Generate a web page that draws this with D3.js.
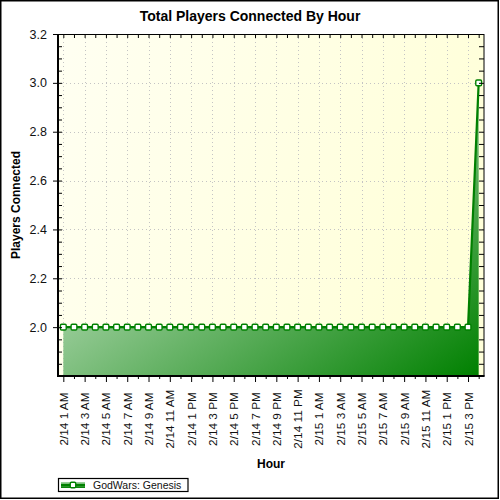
<!DOCTYPE html>
<html>
<head>
<meta charset="utf-8">
<script src="https://cdn.jsdelivr.net/npm/d3@7/dist/d3.min.js"></script>
<style>
  html, body { margin: 0; padding: 0; background: #fff; }
  svg { display: block; font-family: "Liberation Sans", Arial, sans-serif; }
</style>
</head>
<body>
<svg id="chart" width="500" height="500"></svg>
<script>
const hours = [
  "2/14 1 AM","2/14 2 AM","2/14 3 AM","2/14 4 AM","2/14 5 AM","2/14 6 AM","2/14 7 AM","2/14 8 AM",
  "2/14 9 AM","2/14 10 AM","2/14 11 AM","2/14 12 PM","2/14 1 PM","2/14 2 PM","2/14 3 PM","2/14 4 PM",
  "2/14 5 PM","2/14 6 PM","2/14 7 PM","2/14 8 PM","2/14 9 PM","2/14 10 PM","2/14 11 PM","2/15 12 AM",
  "2/15 1 AM","2/15 2 AM","2/15 3 AM","2/15 4 AM","2/15 5 AM","2/15 6 AM","2/15 7 AM","2/15 8 AM",
  "2/15 9 AM","2/15 10 AM","2/15 11 AM","2/15 12 PM","2/15 1 PM","2/15 2 PM","2/15 3 PM","2/15 4 PM"
];
const players = [
  2,2,2,2,2,2,2,2,2,2,
  2,2,2,2,2,2,2,2,2,2,
  2,2,2,2,2,2,2,2,2,2,
  2,2,2,2,2,2,2,2,2,3
];
const xTickLabels = [
  "2/14 1 AM","2/14 3 AM","2/14 5 AM","2/14 7 AM","2/14 9 AM","2/14 11 AM","2/14 1 PM","2/14 3 PM",
  "2/14 5 PM","2/14 7 PM","2/14 9 PM","2/14 11 PM","2/15 1 AM","2/15 3 AM","2/15 5 AM","2/15 7 AM",
  "2/15 9 AM","2/15 11 AM","2/15 1 PM","2/15 3 PM"
];
const yTicks = [2.0, 2.2, 2.4, 2.6, 2.8, 3.0, 3.2];
const yMinorTicks = [1.85,1.9,1.95,2.05,2.1,2.15,2.25,2.3,2.35,2.45,2.5,2.55,2.65,2.7,2.75,2.85,2.9,2.95,3.05,3.1,3.15];
const yDomain = [1.8, 3.2];
const seriesName = "GodWars: Genesis";

const svg = d3.select("#chart");
const L = 58, R = 484, T = 34, B = 376;

const x = d3.scalePoint().domain(hours).range([L, R]).padding(0.5);
const y = d3.scaleLinear().domain(yDomain).range([B, T]);

const defs = svg.append("defs");
const bg = defs.append("linearGradient").attr("id", "bg").attr("x1", "0").attr("y1", "0").attr("x2", "1").attr("y2", "0.3");
bg.append("stop").attr("offset", "0").attr("stop-color", "#fffff2");
bg.append("stop").attr("offset", "1").attr("stop-color", "#ffffd9");
const ag = defs.append("linearGradient").attr("id", "ag").attr("x1", "0").attr("y1", "0").attr("x2", "1").attr("y2", "1");
ag.append("stop").attr("offset", "0").attr("stop-color", "#ffffff");
ag.append("stop").attr("offset", "1").attr("stop-color", "#008000");
const lg = defs.append("linearGradient").attr("id", "lg").attr("x1", "0").attr("y1", "0").attr("x2", "0").attr("y2", "1");
lg.append("stop").attr("offset", "0").attr("stop-color", "#a8d8a8");
lg.append("stop").attr("offset", "1").attr("stop-color", "#008000");

// outer border
svg.append("rect").attr("x", 0.75).attr("y", 0.75).attr("width", 497.5).attr("height", 497.5)
  .attr("fill", "#fff").attr("stroke", "#000").attr("stroke-width", 1.5);

// plot background
svg.append("rect").attr("x", L).attr("y", T).attr("width", R - L).attr("height", B - T).attr("fill", "url(#bg)");

// grid
const grid = svg.append("g").attr("stroke", "#c4c4c4").attr("stroke-width", 1).attr("stroke-dasharray", "1,3");
grid.selectAll("line.h").data(yTicks.filter(v => v < 3.2)).join("line")
  .attr("x1", L).attr("x2", R).attr("y1", d => Math.round(y(d)) + 0.5).attr("y2", d => Math.round(y(d)) + 0.5);
grid.selectAll("line.v").data(xTickLabels).join("line")
  .attr("x1", d => Math.round(x(d)) + 0.5).attr("x2", d => Math.round(x(d)) + 0.5).attr("y1", T).attr("y2", B);

// area
const pts = hours.map((h, i) => ({h, v: players[i]}));
const area = d3.area().x(d => x(d.h)).y0(B).y1(d => y(d.v));
svg.append("path").datum(pts).attr("d", area).attr("fill", "url(#ag)");
const line = d3.line().x(d => x(d.h)).y(d => y(d.v));
svg.append("path").datum(pts).attr("d", line).attr("fill", "none").attr("stroke", "#008000").attr("stroke-width", 2.2);

// markers
svg.append("g").selectAll("rect").data(pts).join("rect")
  .attr("x", d => x(d.h) - 2.9).attr("y", d => y(d.v) - 2.9).attr("width", 5.8).attr("height", 5.8)
  .attr("rx", 1.2).attr("fill", "#fff").attr("stroke", "#008000").attr("stroke-width", 1.4);

// axes
const axisStyle = g => { g.select(".domain").remove(); g.selectAll("line").attr("stroke", "#000"); };

// left major
const gl = svg.append("g").attr("transform", `translate(${L},0)`)
  .call(d3.axisLeft(y).tickValues(yTicks).tickSize(5).tickPadding(6).tickFormat(d3.format(".1f")));
axisStyle(gl);
gl.selectAll(".tick line").attr("x1", 4);
gl.selectAll("text").attr("font-size", "12.5px").attr("fill", "#111").attr("font-family", "Liberation Sans, Arial, sans-serif");
// left minor
const glm = svg.append("g").attr("transform", `translate(${L},0)`)
  .call(d3.axisLeft(y).tickValues(yMinorTicks).tickSize(1).tickFormat(""));
axisStyle(glm);
glm.selectAll(".tick line").attr("x1", 4);
// right
const gr = svg.append("g").attr("transform", `translate(${R},0)`)
  .call(d3.axisRight(y).tickValues(yTicks.concat(yMinorTicks)).tickSize(-5).tickFormat(""));
axisStyle(gr);
// top
const gt = svg.append("g").attr("transform", `translate(0,${T})`)
  .call(d3.axisTop(x).tickValues(hours).tickSize(-4).tickFormat(""));
axisStyle(gt);
// bottom minor
const gbm = svg.append("g").attr("transform", `translate(0,${B})`)
  .call(d3.axisBottom(x).tickValues(hours.filter(h => !xTickLabels.includes(h))).tickSize(3).tickFormat(""));
axisStyle(gbm);
// bottom major
const gb = svg.append("g").attr("transform", `translate(0,${B})`)
  .call(d3.axisBottom(x).tickValues(xTickLabels).tickSize(6));
axisStyle(gb);
gb.selectAll("text")
  .attr("font-size", "11.8px").attr("fill", "#111").attr("font-family", "Liberation Sans, Arial, sans-serif")
  .attr("text-anchor", "middle").attr("dy", null).attr("y", null)
  .attr("dominant-baseline", "central")
  .attr("transform", "translate(0,43) rotate(-90)");

// frame
svg.append("rect").attr("x", L).attr("y", T + 0.5).attr("width", R - L).attr("height", B - T - 0.5)
  .attr("fill", "none").attr("stroke", "#000").attr("stroke-width", 1);
svg.append("line").attr("x1", L).attr("x2", L).attr("y1", T).attr("y2", B + 1).attr("stroke", "#000").attr("stroke-width", 2);
svg.append("line").attr("x1", L - 1).attr("x2", R + 0.5).attr("y1", B).attr("y2", B).attr("stroke", "#000").attr("stroke-width", 2);

// titles
svg.append("text").attr("x", 250).attr("y", 21).attr("text-anchor", "middle")
  .attr("font-size", "14px").attr("font-weight", "bold").attr("fill", "#000").text("Total Players Connected By Hour");
svg.append("text").attr("transform", `translate(20,${(T + B) / 2}) rotate(-90)`).attr("text-anchor", "middle")
  .attr("font-size", "12px").attr("font-weight", "bold").attr("fill", "#000").text("Players Connected");
svg.append("text").attr("x", (L + R) / 2).attr("y", 468).attr("text-anchor", "middle")
  .attr("font-size", "12px").attr("font-weight", "bold").attr("fill", "#000").text("Hour");

// legend
const leg = svg.append("g");
leg.append("rect").attr("x", 58.5).attr("y", 478.5).attr("width", 129.5).attr("height", 13)
  .attr("fill", "#fff").attr("stroke", "#000").attr("stroke-width", 1.2);
leg.append("rect").attr("x", 61).attr("y", 482).attr("width", 24).attr("height", 6).attr("fill", "url(#lg)");
leg.append("line").attr("x1", 61).attr("x2", 85).attr("y1", 485).attr("y2", 485).attr("stroke", "#008000").attr("stroke-width", 2);
leg.append("rect").attr("x", 70.25).attr("y", 482.25).attr("width", 5.5).attr("height", 5.5).attr("rx", 1.2)
  .attr("fill", "#fff").attr("stroke", "#008000").attr("stroke-width", 1.4);
leg.append("text").attr("x", 93).attr("y", 489).attr("font-size", "10.5px").attr("fill", "#111").text(seriesName);
</script>
</body>
</html>
